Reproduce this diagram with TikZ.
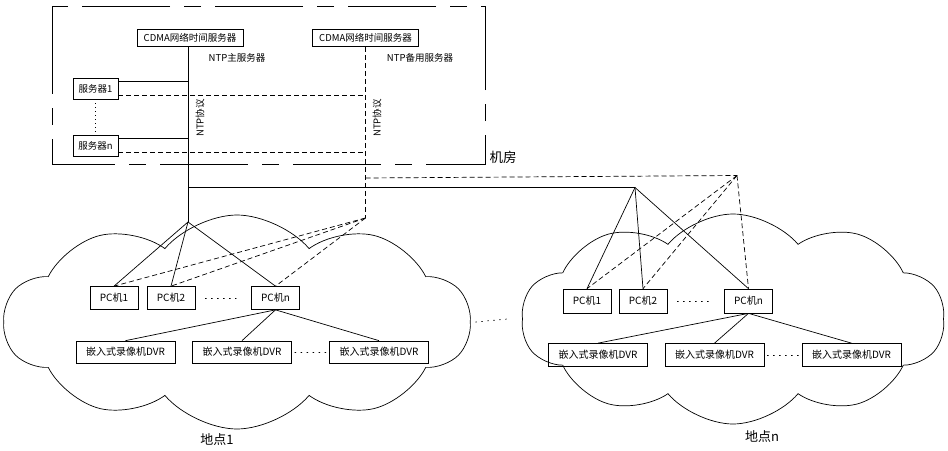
\documentclass[tikz,border=0pt]{standalone}
\usepackage{fontspec}
\setmainfont{Noto Sans CJK SC}
\usetikzlibrary{shapes.symbols}
\usetikzlibrary{positioning}

\tikzset{
  box/.style={draw, inner sep=0pt, font=\fontsize{10}{12}\selectfont},
  pcbox/.style={box, minimum width=48pt, minimum height=23pt},
  dvrbox/.style={box, minimum width=99pt, minimum height=22pt},
  srvbox/.style={box, minimum width=45pt, minimum height=21pt, font=\fontsize{9.5}{11}\selectfont},
  cdmabox/.style={box, minimum width=106pt, minimum height=17pt, font=\fontsize{9.5}{11}\selectfont},
  area/.style={draw, cloud, cloud puffs=10, cloud puff arc=100, inner sep=0pt},
  bak/.style={dash pattern=on 5pt off 3pt},
  dots/.style={dash pattern=on 1pt off 5pt, line cap=round},
  lbl/.style={font=\fontsize{9.5}{11}\selectfont}
}

\begin{document}
\begin{tikzpicture}[x=1pt, y=-1pt, line width=0.7pt]
            \useasboundingbox (0,0) rectangle (948,450);
            % machine room
            \draw[dash pattern=on 88pt off 14pt on 17pt off 14pt] (52,6) rectangle (485,164);
            \node[font=\fontsize{13.5}{15}\selectfont] (room) at (503,157) {机房};

            \node[cdmabox] (cd1) at (190,37.5) {CDMA网络时间服务器};
            \node[cdmabox] (cd2) at (365.5,38) {CDMA网络时间服务器};
            \node[lbl] (main) at (237,58) {NTP主服务器};
            \node[lbl] (spare) at (420,58) {NTP备用服务器};
            \node[lbl, rotate=90] (ntp1) at (200,118) {NTP协议};
            \node[lbl, rotate=90] (ntp2) at (377,118) {NTP协议};

            \node[srvbox] (srv1) at (95.5,88.5) {服务器1};
            \node[srvbox] (srvn) at (95.5,145.5) {服务器n};
            \draw[dash pattern=on 1pt off 3pt] (srv1.south) -- (srvn.north);

            \coordinate (p1) at (188,222);
            \coordinate (q1) at (365.5,218);
            \coordinate (m1) at (188,187.5);
            \coordinate (d1) at (365.5,178);
            \coordinate (hub) at (635,187.5);
            \coordinate (top) at (737,175.5);

            \draw (cd1.south -| p1) -- (p1);
            \draw[bak] (cd2.south) -- (q1);
            \draw ([yshift=7pt]srv1.east) -- ([yshift=7pt]srv1.east -| p1);
            \draw ([yshift=7pt]srvn.east) -- ([yshift=7pt]srvn.east -| p1);
            \draw[bak] ([yshift=-7pt]srv1.east) -- ([yshift=-7pt]srv1.east -| q1);
            \draw[bak] ([yshift=-7pt]srvn.east) -- ([yshift=-7pt]srvn.east -| q1);
            \draw (m1) -- (hub);
            \draw[bak] (d1) -- (top);

            % site 1
            \node[area, minimum width=466pt, minimum height=214pt] (c1) at (237,322) {};
            \node[pcbox] (pa1) at (114,298) {PC机1};
            \node[pcbox] (pa2) at (171,298) {PC机2};
            \node[pcbox] (pan) at (275.5,298) {PC机n};
            \node[dvrbox] (da1) at (125.5,352) {嵌入式录像机DVR};
            \node[dvrbox] (da2) at (242,352) {嵌入式录像机DVR};
            \node[dvrbox] (da3) at (379,352) {嵌入式录像机DVR};
            \foreach \pc in {pa1,pa2,pan} {
              \draw (p1) -- (\pc.north);
              \draw[bak] (q1) -- (\pc.north);
            }
            \foreach \dv in {da1,da2,da3}
              \draw (pan.south) -- (\dv.north);
            \draw[dots] ([xshift=10pt]pa2.east) -- ([xshift=-15pt]pan.west);
            \draw[dots] ([xshift=3pt]da2.east) -- ([xshift=-2pt]da3.west);
            \node[font=\fontsize{13}{15}\selectfont] (site1) at (217,440) {地点1};

            % site n
            \node[area, minimum width=423pt, minimum height=210pt] (c2) at (733,319) {};
            \node[pcbox, minimum height=24pt] (pb1) at (587,301) {PC机1};
            \node[pcbox, minimum height=24pt] (pb2) at (643,301) {PC机2};
            \node[pcbox, minimum height=24pt] (pbn) at (748.5,301) {PC机n};
            \node[dvrbox, minimum height=23pt] (db1) at (598,355) {嵌入式录像机DVR};
            \node[dvrbox, minimum height=23pt] (db2) at (714.5,355) {嵌入式录像机DVR};
            \node[dvrbox, minimum height=23pt] (db3) at (851.5,355) {嵌入式录像机DVR};
            \foreach \pc in {pb1,pb2,pbn} {
              \draw (hub) -- (\pc.north);
              \draw[bak] (top) -- (\pc.north);
            }
            \foreach \dv in {db1,db2,db3}
              \draw (pbn.south) -- (\dv.north);
            \draw[dots] ([xshift=10pt]pb2.east) -- ([xshift=-14pt]pbn.west);
            \draw[dots] ([xshift=3pt]db2.east) -- ([xshift=-2pt]db3.west);
            \node[font=\fontsize{13}{15}\selectfont] (siten) at (762,437) {地点n};

            \draw[dots] ([xshift=5pt]c1.east) -- ([xshift=-15pt]c2.west);
        \end{tikzpicture}
\end{document}
